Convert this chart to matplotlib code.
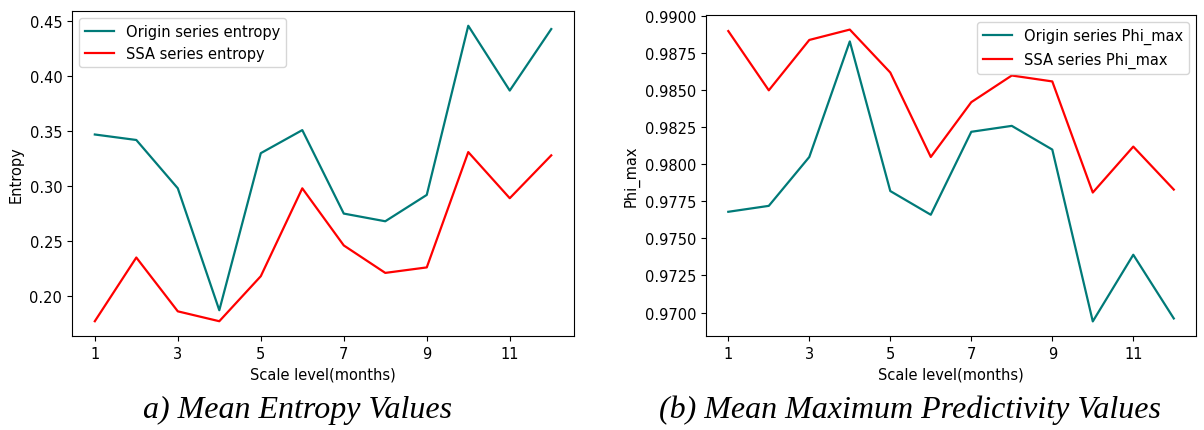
import matplotlib
matplotlib.use("Agg")
import matplotlib.pyplot as plt

scales = [1, 2, 3, 4, 5, 6, 7, 8, 9, 10, 11, 12]
xticks = [1, 3, 5, 7, 9, 11]

origin_entropy = [0.347, 0.342, 0.298, 0.187, 0.330, 0.351, 0.275, 0.268, 0.292, 0.446, 0.387, 0.443]
ssa_entropy = [0.177, 0.235, 0.186, 0.177, 0.218, 0.298, 0.246, 0.221, 0.226, 0.331, 0.289, 0.328]

origin_phi = [0.9768, 0.9772, 0.9805, 0.9883, 0.9782, 0.9766, 0.9822, 0.9826, 0.9810, 0.9694, 0.9739, 0.9696]
ssa_phi = [0.9890, 0.9850, 0.9884, 0.9891, 0.9862, 0.9805, 0.9842, 0.9860, 0.9856, 0.9781, 0.9812, 0.9783]

teal = "#007a78"
red = "#ff0000"
fs = 10.5

fig = plt.figure(figsize=(12.04, 4.31), dpi=100)
ax1 = fig.add_axes([0.0598, 0.2181, 0.417, 0.7541])
ax2 = fig.add_axes([0.5864, 0.2181, 0.407, 0.7448])

ax1.plot(scales, origin_entropy, color=teal, lw=1.6, label="Origin series entropy")
ax1.plot(scales, ssa_entropy, color=red, lw=1.6, label="SSA series entropy")
ax1.set_xticks(xticks)
ax1.set_yticks([0.20, 0.25, 0.30, 0.35, 0.40, 0.45])
ax1.set_ylabel("Entropy", fontsize=fs)
ax1.set_xlabel("Scale level(months)", fontsize=fs)
ax1.tick_params(labelsize=fs)
ax1.legend(loc="upper left", fontsize=fs)

ax2.plot(scales, origin_phi, color=teal, lw=1.6, label="Origin series Phi_max")
ax2.plot(scales, ssa_phi, color=red, lw=1.6, label="SSA series Phi_max")
ax2.set_xticks(xticks)
ax2.set_yticks([0.9700, 0.9725, 0.9750, 0.9775, 0.9800, 0.9825, 0.9850, 0.9875, 0.9900])
ax2.yaxis.set_major_formatter(matplotlib.ticker.FormatStrFormatter("%.4f"))
ax2.set_ylabel("Phi_max", fontsize=fs)
ax2.set_xlabel("Scale level(months)", fontsize=fs)
ax2.tick_params(labelsize=fs)
ax2.legend(loc="upper right", fontsize=fs)

fig.text(0.247, 1 - 410 / 431, "a) Mean Entropy Values", ha="center", va="center",
         fontsize=23, style="italic", family="Liberation Serif")
fig.text(0.756, 1 - 410 / 431, "(b) Mean Maximum Predictivity Values", ha="center", va="center",
         fontsize=23, style="italic", family="Liberation Serif")

fig.savefig("out.png", dpi=100)
